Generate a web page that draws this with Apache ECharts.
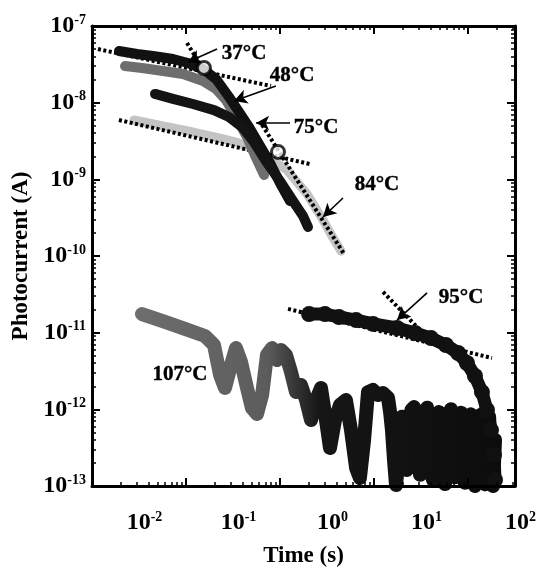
<!DOCTYPE html>
<html><head><meta charset="utf-8">
<script src="https://cdn.jsdelivr.net/npm/echarts@6/dist/echarts.min.js"></script>
<style>html,body{margin:0;padding:0;background:#fff}#c{width:542px;height:569px}</style>
</head><body><div id="c"></div>
<script>
// ---------- axis ticks ----------
const xMin = 0.0031623, xMax = 100;
const yMin = 1e-13, yMax = 1e-7;
const xMajor = [0.01, 0.1, 1, 10, 100];
const xTickExp = ['-2', '-1', '0', '1', '2'];
const yMajor = [1e-13, 1e-12, 1e-11, 1e-10, 1e-9, 1e-8, 1e-7];
const yTickExp = ['-13', '-12', '-11', '-10', '-9', '-8', '-7'];

// ---------- data (time s, photocurrent A) ----------
const t37 = [0.00612,0.00953,0.0141,0.0230,0.0332,0.048,0.0659,0.0906,0.116,0.148,0.189,0.248,0.316,0.404];
const i37 = [4.72e-8,4.32e-8,4.06e-8,3.71e-8,3.29e-8,2.75e-8,2.04e-8,1.19e-8,7.55e-9,4.82e-9,2.89e-9,1.63e-9,8.95e-10,5.21e-10];
const t48 = [0.0071,0.0108,0.018,0.0294,0.048,0.0659,0.0843,0.110,0.141,0.176,0.214];
const i48 = [3.0e-8,2.83e-8,2.59e-8,2.37e-8,1.92e-8,1.51e-8,1.08e-8,6.12e-9,3.56e-9,1.9e-9,1.14e-9];
const t75 = [0.0148,0.023,0.0375,0.0628,0.0906,0.125,0.167,0.224,0.316,0.435,0.556,0.628];
const i75 = [1.30e-8,1.12e-8,9.6e-9,8.0e-9,6.5e-9,4.82e-9,3.07e-9,1.73e-9,9.5e-10,5.21e-10,3.32e-10,2.39e-10];
const t84 = [0.00885,0.018,0.0375,0.071,0.116,0.167,0.208,0.280,0.375,0.480,0.612,0.745,0.906,1.13,1.41];
const i84 = [5.94e-9,4.97e-9,4.14e-9,3.46e-9,2.98e-9,2.41e-9,2.07e-9,1.68e-9,1.32e-9,9.2e-10,6.44e-10,4.36e-10,2.95e-10,1.82e-10,1.16e-10];
const t95 = [0.644,0.953,1.34,2.04,3.09,5.56,8.63,12.8,18.4,24.8,30.8,37.5,44.5,50.3,55.6,59.8,61.3];
const i95 = [1.75e-11,1.75e-11,1.6e-11,1.46e-11,1.30e-11,1.15e-11,9.9e-12,8.5e-12,6.9e-12,5.43e-12,4.02e-12,2.72e-12,1.68e-12,9.8e-13,5.37e-13,2.54e-13,1.2e-13];
const t107 = [0.01076,0.0189,0.0308,0.0503,0.0628,0.0728,0.0822,0.0953,0.1076,0.1216,
  0.141,0.159,0.180,0.204,0.230,0.260,0.294,0.324,0.366,0.414,
  0.468,0.528,0.598,0.676,0.764,0.863,0.975,1.076,1.216,1.375,
  1.59,1.80,2.04,2.24,2.48,2.73,3.08,3.49,3.94,4.46,
  4.70,4.91,5.16,5.42,5.70,5.98,6.28,6.59,7.0,7.45,7.9,8.43,8.85,9.29,9.75,10.25,10.9,11.6,12.2,12.8,
  13.4,14.1,14.8,15.5,16.3,17.1,18.0,18.9,19.8,20.8,21.9,23.0,24.2,25.4,26.7,28.0,29.4,30.8,32.4,34.0,
  35.7,37.5,39.4,41.4,43.5,45.7,48.0,50.4,53.0,55.6,58.4,61.3];
const i107 = [1.75e-11,1.38e-11,1.12e-11,9.05e-12,6.9e-12,2.81e-12,1.9e-12,3.79e-12,6.3e-12,4.15e-12,
  1.9e-12,1.04e-12,8.7e-13,1.54e-12,5.12e-12,6.3e-12,4.4e-12,5.94e-12,5.12e-12,3.07e-12,
  1.68e-12,2.08e-12,1.32e-12,7.26e-13,1.32e-12,1.9e-12,7.26e-13,3.13e-13,7.26e-13,1.14e-12,
  1.32e-12,5.38e-13,1.72e-13,1.27e-13,3.98e-13,1.68e-12,1.79e-12,1.54e-12,1.63e-12,1.41e-12,
  9.0e-13,5.38e-13,2.2e-13,1.03e-13,1.9e-13,5.5e-13,8.0e-13,3.98e-13,1.62e-13,3.5e-13,9.8e-13,1.07e-12,6.0e-13,3.0e-13,1.4e-13,2.6e-13,7.0e-13,1.05e-12,5.0e-13,1.6e-13,
  1.2e-13,3.0e-13,6.5e-13,9.2e-13,5.5e-13,1.8e-13,1.06e-13,2.6e-13,8.0e-13,1.0e-12,4.5e-13,1.3e-13,2.0e-13,6.5e-13,9.0e-13,4.0e-13,1.1e-13,1.9e-13,7.0e-13,8.6e-13,
  3.6e-13,1.0e-13,2.4e-13,7.3e-13,8.5e-13,3.2e-13,1.05e-13,3.4e-13,8.0e-13,3.0e-13,1.0e-13,4.0e-13];

// fitted (dotted) lines: [t0, t1], [I0, I1]
const fit37aT = [0.00366, 0.2535], fit37aI = [5.0e-8, 1.65e-8];
const fit37bT = [0.0324, 0.0446],  fit37bI = [6.0e-8, 3.19e-8];
const fit84aT = [0.00612, 0.659],  fit84aI = [5.94e-9, 1.58e-9];
const fit84bT = [0.204, 1.52],     fit84bI = [5.12e-9, 1.06e-10];
const fit95aT = [0.385, 56.9],     fit95aI = [2.04e-11, 4.68e-12];
const fit95bT = [3.95, 9.76],      fit95bI = [3.4e-11, 1.08e-11];

// knee circles
const kneeT = [0.0491, 0.301], kneeI = [2.83e-8, 2.28e-9];

// annotations
const labelTexts = ['37°C', '48°C', '75°C', '84°C', '95°C', '107°C'];
const labelT = [0.131, 0.425, 0.764, 3.40, 26.7, 0.0273];
const labelI = [4.32e-8, 2.23e-8, 4.68e-9, 8.43e-10, 2.83e-11, 2.81e-12];
const arrowFromT = [0.0676, 0.286, 0.404, 1.48, 11.6];
const arrowFromI = [5.01e-8, 1.65e-8, 5.43e-9, 5.71e-10, 3.3e-11];
const arrowToT = [0.0332, 0.1026, 0.176, 0.906, 5.56];
const arrowToI = [3.39e-8, 1.05e-8, 5.43e-9, 3.23e-10, 1.46e-11];

// ---------- build ----------
const zip = (a, b) => a.map((v, k) => [v, b[k]]);
const FONT = 'Liberation Serif';

const richLbl = {
  p: { width: 11, fontSize: 14 },
  b: { fontFamily: FONT, fontWeight: 'bold', fontSize: 24, color: '#000', lineHeight: 26 },
  s: { fontFamily: FONT, fontWeight: 'bold', fontSize: 14, color: '#000', lineHeight: 14, verticalAlign: 'top' }
};
const expOf = v => Math.round(Math.log10(v));
const fmtX = v => { const k = xMajor.findIndex(m => expOf(m) === expOf(v)); return k < 0 ? '' : '{p|}{b|10}{s|' + xTickExp[k] + '}'; };
const fmtY = v => { const k = yMajor.findIndex(m => expOf(m) === expOf(v)); return k < 0 ? '' : '{b|10}{s|' + yTickExp[k] + '}'; };

function mkAxis(kind, pos, withLabel) {
  const isX = kind === 'x';
  const ax = {
    type: 'log', logBase: 10,
    min: isX ? xMin : yMin, max: isX ? xMax : yMax,
    interval: 1,
    position: pos,
    axisLine: { show: true, onZero: false, lineStyle: { color: '#000', width: 3 } },
    axisTick: { show: true, inside: true, length: 8, lineStyle: { color: '#000', width: 2 } },
    minorTick: { show: true, splitNumber: 9, length: 4, lineStyle: { color: '#000', width: 1.5 } },
    splitLine: { show: false },
    minorSplitLine: { show: false },
    axisLabel: withLabel ? { show: true, customValues: isX ? xMajor : yMajor, formatter: isX ? fmtX : fmtY, rich: richLbl, margin: isX ? 24 : 6 } : { show: false },
    z: 10
  };
  if (withLabel) {
    ax.name = isX ? 'Time (s)' : 'Photocurrent (A)';
    ax.nameLocation = 'middle';
    ax.nameGap = isX ? 59 : 56;
    ax.nameTextStyle = { fontFamily: FONT, fontWeight: 'bold', fontSize: 23, color: '#000' };
  }
  return ax;
}

const bandStyle = (color, w) => ({ color: color, width: w, cap: 'round', join: 'round' });
const lineSeries = (name, data, color, w, z) => ({
  name, type: 'line', data, showSymbol: false, symbol: 'none', z: z || 2,
  lineStyle: bandStyle(color, w), itemStyle: { color }, clip: true
});
const dotted = (name, t, i) => ({
  name, type: 'line', data: zip(t, i), showSymbol: false, symbol: 'none', z: 2,
  lineStyle: { color: '#000', width: 4, type: [3, 2.5] }
});

const option = {
  animation: false,
  backgroundColor: '#fff',
  grid: { left: 92, right: 27, top: 26, bottom: 83, containLabel: false, outerBoundsMode: 'none' },
  xAxis: [mkAxis('x', 'bottom', true), mkAxis('x', 'top', false)],
  yAxis: [mkAxis('y', 'left', true), mkAxis('y', 'right', false)],
  series: [
    lineSeries('84°C', zip(t84, i84), '#c4c4c4', 9),
    dotted('fit84a', fit84aT, fit84aI),
    dotted('fit84b', fit84bT, fit84bI),
    dotted('fit37a', fit37aT, fit37aI),
    lineSeries('48°C', zip(t48, i48), '#6e6e6e', 10),
    lineSeries('37°C', zip(t37, i37), '#111', 10),
    lineSeries('75°C', zip(t75, i75), '#141414', 10),
    dotted('fit37b', fit37bT, fit37bI),
    dotted('fit95a', fit95aT, fit95aI),
    dotted('fit95b', fit95bT, fit95bI),
    {
      name: '95°C', type: 'line', data: zip(t95, i95), showSymbol: true, symbol: 'circle', symbolSize: 16, z: 3,
      lineStyle: bandStyle('#111', 13), itemStyle: { color: '#111' }
    },
    {
      name: '107°C', type: 'line', data: zip(t107, i107), showSymbol: false, symbol: 'none', z: 3,
      lineStyle: {
        width: 14, cap: 'round', join: 'round',
        color: { type: 'linear', x: 0, y: 0, x2: 1, y2: 0, global: false,
          colorStops: [{ offset: 0, color: '#6e6e6e' }, { offset: 0.36, color: '#5c5c5c' }, { offset: 0.5, color: '#161616' }, { offset: 1, color: '#0c0c0c' }] }
      }
    },
    {
      name: 'knees', type: 'scatter', data: zip(kneeT, kneeI), symbol: 'circle', symbolSize: 13, z: 5,
      itemStyle: { color: '#fff', borderColor: '#000', borderWidth: 3 }
    },
    {
      name: 'labels', type: 'scatter', data: zip(labelT, labelI), symbolSize: 0, z: 6,
      itemStyle: { color: '#000', opacity: 1 },
      label: { show: true, position: 'inside', formatter: p => labelTexts[p.dataIndex],
        fontFamily: FONT, fontWeight: 'bold', fontSize: 21, color: '#000', opacity: 1,
        textBorderColor: '#000', textBorderWidth: 0.4 },
      markLine: {
        silent: true, symbol: ['none', 'arrow'], symbolSize: [11, 13], precision: 20,
        label: { show: false },
        lineStyle: { color: '#000', width: 1.6, type: 'solid' },
        data: arrowFromT.map((t, k) => [{ coord: [t, arrowFromI[k]] }, { coord: [arrowToT[k], arrowToI[k]] }])
      }
    }
  ]
};
const chart = echarts.init(document.getElementById('c'), null, { renderer: 'canvas' });
chart.setOption(option);
</script></body></html>
